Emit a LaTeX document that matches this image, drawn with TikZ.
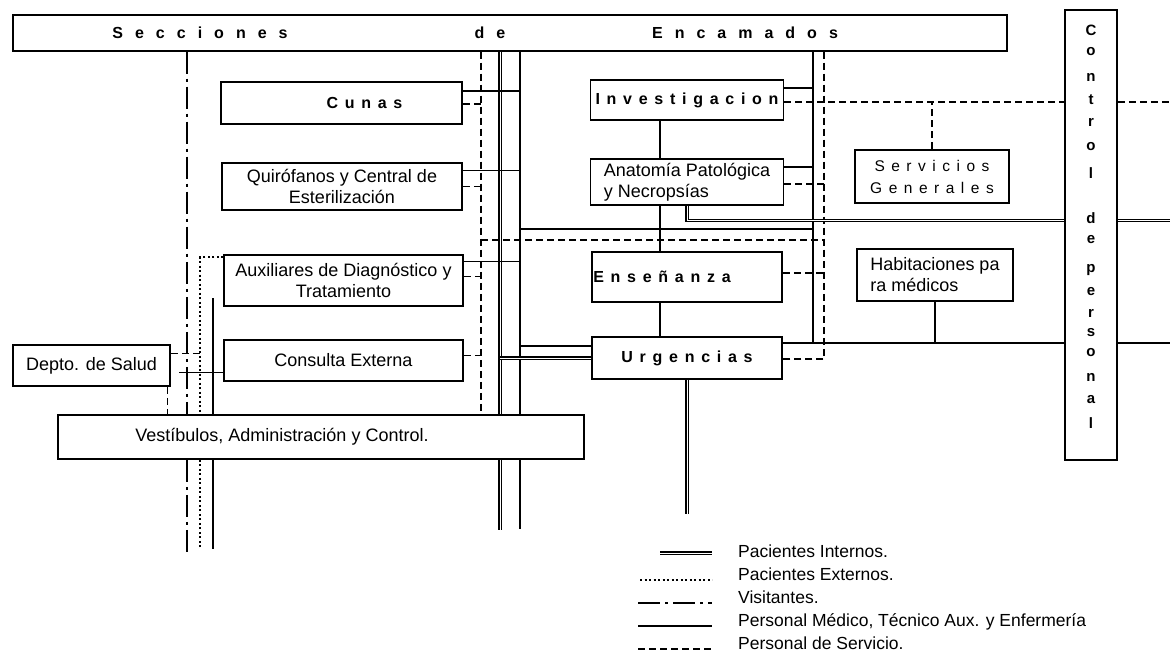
\documentclass[tikz,border=0pt]{standalone}
\usepackage{fontspec}
\setmainfont{Liberation Sans}
\newfontfamily\anchofont[LetterSpace=75]{Liberation Sans}
\newfontfamily\cajafont[LetterSpace=42]{Liberation Sans}
\usetikzlibrary{calc}

\begin{document}
\begin{tikzpicture}[x=1pt,y=-1pt,
  every node/.style={font=\fontsize{18}{21}\selectfont},
  caja/.style={draw,line width=1.5pt,fill=white,align=center,inner sep=2pt},
  titulo/.style={font=\anchofont\bfseries\fontsize{16}{18}\selectfont},
  rotulo/.style={font=\cajafont\bfseries\fontsize{16}{18}\selectfont},
  letra/.style={font=\bfseries\fontsize{15}{17}\selectfont,inner sep=0pt},
  leyenda/.style={anchor=base west,inner xsep=0pt,font=\fontsize{17.5}{19}\selectfont},
  interno/.style={line width=1.4pt,double=white,double distance=0.7pt},
  externo/.style={line width=2.2pt,dash pattern=on 2pt off 2.5pt},
  visita/.style={line width=1.5pt,dash pattern=on 22pt off 5pt on 3pt off 5pt},
  medico/.style={line width=1.1pt},
  servicio/.style={line width=1.3pt,dash pattern=on 7pt off 4pt}]
\useasboundingbox (0,0) rectangle (1170,655);
% barras
\node[caja,minimum width=994pt,minimum height=36pt] (top) at (510,33) {};
\node[titulo] (tsec) at (200,33) {Secciones};
\node[titulo] (tde) at (490,33) {de};
\node[titulo] (tenc) at (745,33) {Encamados};
\node[caja,minimum width=52pt,minimum height=450pt] (control) at (1091,235) {};
\foreach \ch/\yy in {C/30,o/52,n/77,t/100,r/122,o/147,l/173,d/218,e/240,p/270,e/292,r/313,s/333,o/353,n/377,a/400,l/423}
  \node[letra] (cp\yy) at (1091,\yy) {\ch};
\node[caja,minimum width=526pt,minimum height=44pt] (vest) at (321,437) {\hspace*{-78pt}Vestíbulos, Administración y Control.};
% columna izquierda
\node[caja,rotulo,minimum width=241pt,minimum height=42pt] (cunas) at (341.5,103) {\hspace*{46pt}Cunas};
\node[caja,minimum width=240pt,minimum height=47pt] (quir) at (342,186.5) {Quirófanos y Central de\\Esterilización};
\node[caja,minimum width=239pt,minimum height=51pt] (aux) at (343.5,280.5) {Auxiliares de Diagnóstico y\\Tratamiento};
\node[caja,minimum width=239pt,minimum height=41pt] (consulta) at (343.5,360.5) {Consulta Externa};
\node[caja,minimum width=157pt,minimum height=41pt] (depto) at (91.5,365.5) {Depto. de Salud};
% columna central y derecha
\node[caja,rotulo,minimum width=193pt,minimum height=40pt] (invest) at (687,100) {Investigacion};
\node[caja,align=left,minimum width=193pt,minimum height=46pt] (anat) at (687,182) {Anatomía Patológica\\y Necropsías};
\node[caja,rotulo,minimum width=190pt,minimum height=50pt] (ense) at (687,277) {\hspace*{-50pt}Enseñanza};
\node[caja,rotulo,minimum width=190pt,minimum height=42pt] (urg) at (687,358) {Urgencias};
\node[caja,font=\cajafont\fontsize{15.5}{22}\selectfont,minimum width=154pt,minimum height=53pt] (serv) at (932,176.5) {Servicios\\Generales};
\node[caja,align=left,minimum width=156pt,minimum height=52pt] (habit) at (935,275) {Habitaciones pa\\ra médicos};
% pasillos
\coordinate (cv) at (187,0);
\coordinate (ce) at (200,0);
\coordinate (cm) at (213,298);
\coordinate (cs) at (481,0);
\coordinate (ci) at (500,0);
\coordinate (cm2) at (520,0);
\coordinate (cm3) at (813,0);
\coordinate (cs2) at (824,0);
\coordinate (cruce1) at (0,229);
\coordinate (cruce2) at (0,240);
\draw[visita] (cv |- top.south) -- (cv |- vest.north) (cv |- vest.south) -- ++(0,96);
\draw[externo] ([yshift=-3pt]aux.north west) -| (ce |- vest.north) (ce |- vest.south) -- ++(0,88);
\draw[medico] (cm) -- (cm |- vest.north) (cm |- vest.south) -- ++(0,89);
\draw[medico] ([yshift=-12pt]consulta.west) -- ++(-44,0);
\draw[servicio] ([yshift=12pt]depto.east) coordinate (d1) -- (d1 -| ce);
\draw[servicio] ([xshift=-3pt]depto.south east) coordinate (d2) -- (d2 |- vest.north);
\draw[servicio] (cs |- top.south) -- (cs |- vest.north);
\draw[interno] (ci |- top.south) -- (ci |- vest.north) (ci |- vest.south) -- ++(0,70);
\draw[medico] (cm2 |- top.south) -- (cm2 |- vest.north) (cm2 |- vest.south) -- ++(0,69);
% salidas de la columna izquierda
\draw[medico] ([yshift=12pt]cunas.east) coordinate (k1) -- (k1 -| cm2);
\draw[servicio] ([yshift=-1pt]cunas.east) coordinate (k2) -- (k2 -| cs);
\draw[medico] ([yshift=16pt]quir.east) coordinate (k3) -- (k3 -| cm2);
\draw[servicio] (quir.east) -- (quir.east -| cs);
\draw[medico] ([yshift=19pt]aux.east) coordinate (k4) -- (k4 -| cm2);
\draw[servicio] ([yshift=4pt]aux.east) coordinate (k5) -- (k5 -| cs);
\draw[servicio] ([yshift=5pt]consulta.east) coordinate (k6) -- (k6 -| cs);
\draw[medico] (cm2 |- cruce1) -- (cm3 |- cruce1);
\draw[servicio] (cs |- cruce2) -- (cs2 |- cruce2);
% columna central
\draw[medico] ([yshift=15pt]urg.east) coordinate (u1) -- (u1 -| control.west) (u1 -| control.east) -- ++(53,0);
\draw[medico] (cm3 |- top.south) -- (cm3 |- u1);
\draw[servicio] (cs2 |- top.south) |- ([yshift=-1pt]urg.east);
\draw[medico] ([yshift=12pt]invest.east) coordinate (i1) -- (i1 -| cm3);
\draw[servicio] ([yshift=-2pt]invest.east) coordinate (i2) -- (i2 -| control.west) (i2 -| control.east) -- ++(53,0);
\draw[servicio] (serv.north) -- (serv.north |- i2);
\draw[medico] ([yshift=15pt]anat.east) coordinate (a1) -- (a1 -| cm3);
\draw[servicio] ([yshift=-2pt]anat.east) coordinate (a2) -- (a2 -| cs2);
\draw[interno] (anat.south) -- ++(0,15) coordinate (a3) -- (a3 -| control.west) (a3 -| control.east) -- ++(53,0);
\draw[medico] ([xshift=-27pt]invest.south) -- ([xshift=-27pt]anat.north);
\draw[medico] ([xshift=-27pt]anat.south) -- ([xshift=-27pt]ense.north);
\draw[medico] ([xshift=-27pt]ense.south) -- ([xshift=-27pt]urg.north);
\draw[servicio] ([yshift=4pt]ense.east) coordinate (e1) -- (e1 -| cs2);
\draw[medico] ([yshift=12pt]urg.west) coordinate (u2) -- (u2 -| cm2);
\draw[interno] (urg.west) -- (urg.west -| ci);
\draw[interno] (urg.south) -- ++(0,134);
\draw[medico] (habit.south) -- (habit.south |- u1);
% leyenda
\node[leyenda] (l1) at (738,557) {Pacientes Internos.};
\node[leyenda] (l2) at (738,580) {Pacientes Externos.};
\node[leyenda] (l3) at (738,603) {Visitantes.};
\node[leyenda] (l4) at (738,626) {Personal Médico, Técnico Aux. y Enfermería};
\node[leyenda] (l5) at (738,649) {Personal de Servicio.};
\draw[interno] ([xshift=-78pt,yshift=4pt]l1.base west) -- ([xshift=-26pt,yshift=4pt]l1.base west);
\draw[externo] ([xshift=-98pt]l2.base west) -- ([xshift=-26pt]l2.base west);
\draw[visita] ([xshift=-100pt]l3.base west) -- ([xshift=-26pt]l3.base west);
\draw[medico] ([xshift=-100pt]l4.base west) -- ([xshift=-26pt]l4.base west);
\draw[servicio] ([xshift=-100pt]l5.base west) -- ([xshift=-26pt]l5.base west);
\end{tikzpicture}
\end{document}
